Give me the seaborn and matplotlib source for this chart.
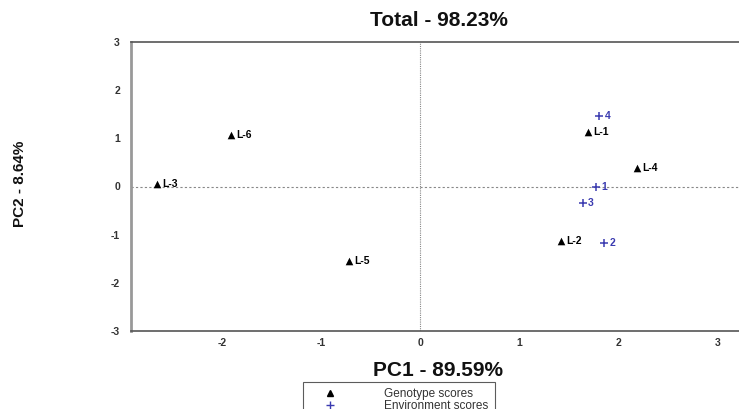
# Biplot of genotype and environment PC scores (GGE style)
import pandas as pd
import matplotlib
matplotlib.use("Agg")
import matplotlib.pyplot as plt
import seaborn as sns

# genotype scores
geno_labels = ["L-1", "L-2", "L-3", "L-4", "L-5", "L-6"]
geno_pc1 = [1.69, 1.42, -2.66, 2.19, -0.72, -1.91]
geno_pc2 = [1.14, -1.14, 0.06, 0.38, -1.54, 1.07]

# environment scores
env_labels = ["1", "2", "3", "4"]
env_pc1 = [1.77, 1.86, 1.64, 1.81]
env_pc2 = [-0.01, -1.18, -0.34, 1.47]

x_ticks = [-2, -1, 0, 1, 2, 3]
y_ticks = [-3, -2, -1, 0, 1, 2, 3]

blue = "#3b3bb0"

geno_df = pd.DataFrame({"PC1": geno_pc1, "PC2": geno_pc2, "label": geno_labels})
env_df = pd.DataFrame({"PC1": env_pc1, "PC2": env_pc2, "label": env_labels})

sns.set_style("white")
plt.rcParams["font.family"] = ["Liberation Sans", "DejaVu Sans"]

fig = plt.figure(figsize=(7.39, 4.09), dpi=100)
ax = fig.add_axes([131 / 739, 78 / 409, 621 / 739, 289 / 409])

sns.scatterplot(data=geno_df, x="PC1", y="PC2", color="black", marker="^",
                s=30, linewidth=0, ax=ax, legend=False)
sns.scatterplot(data=env_df, x="PC1", y="PC2", color=blue, marker="+",
                s=40, linewidth=1.1, ax=ax, legend=False)

for _, row in geno_df.iterrows():
    ax.annotate(row["label"], (row["PC1"], row["PC2"]), xytext=(4, 0),
                textcoords="offset points", va="center", ha="left",
                fontsize=7.5, fontweight="bold", color="black")
for _, row in env_df.iterrows():
    ax.annotate(row["label"], (row["PC1"], row["PC2"]), xytext=(4, 0),
                textcoords="offset points", va="center", ha="left",
                fontsize=7.5, fontweight="bold", color=blue)

ax.axhline(0, color="#888888", lw=0.8, ls=(0, (2, 2)), zorder=0)
ax.axvline(0, color="#888888", lw=0.8, ls=(0, (1, 1)), zorder=0)

ax.set_xlim(-2.92, 3.35)
ax.set_ylim(-3, 3)
ax.set_xticks(x_ticks)
ax.set_yticks(y_ticks)
ax.set_xticklabels([str(t) for t in x_ticks])
ax.set_yticklabels([str(t) for t in y_ticks])
ax.tick_params(axis="both", length=0, labelsize=7.5, colors="#333333")
ax.tick_params(axis="x", pad=5)
ax.tick_params(axis="y", pad=8)
for lab in ax.get_xticklabels() + ax.get_yticklabels():
    lab.set_fontweight("bold")

ax.spines["left"].set_color("#999999")
ax.spines["left"].set_linewidth(2)
ax.spines["bottom"].set_color("#555555")
ax.spines["bottom"].set_linewidth(1.2)
ax.spines["top"].set_color("#555555")
ax.spines["top"].set_linewidth(1.2)
ax.spines["right"].set_visible(False)
ax.set_xlabel("")
ax.set_ylabel("")

fig.text(439 / 739, 1 - 21 / 409, "Total - 98.23%", ha="center", va="center",
         fontsize=15, fontweight="bold", color="#111111")
fig.text(438 / 739, 1 - 371 / 409, "PC1 - 89.59%", ha="center", va="center",
         fontsize=15, fontweight="bold", color="#111111")
fig.text(20 / 739, 1 - 184 / 409, "PC2 - 8.64%", ha="center", va="center",
         rotation=90, fontsize=11, fontweight="bold", color="#111111")

# legend below the plot
h_geno = plt.Line2D([], [], marker="^", ls="", color="black", markersize=5)
h_env = plt.Line2D([], [], marker="+", ls="", color=blue, markersize=6)
leg = fig.legend([h_geno, h_env], ["Genotype scores", "Environment scores"],
                 loc="upper left", bbox_to_anchor=(303 / 739, 1 - 382 / 409),
                 fontsize=8.5, frameon=True, fancybox=False, handletextpad=2.9,
                 labelspacing=0.0, borderpad=0.5, handlelength=3.5,
                 borderaxespad=0, numpoints=1)
leg.get_frame().set_edgecolor("#333333")
leg.get_frame().set_linewidth(0.8)
for t in leg.get_texts():
    t.set_color("#333333")

fig.savefig("out.png", dpi=100)
